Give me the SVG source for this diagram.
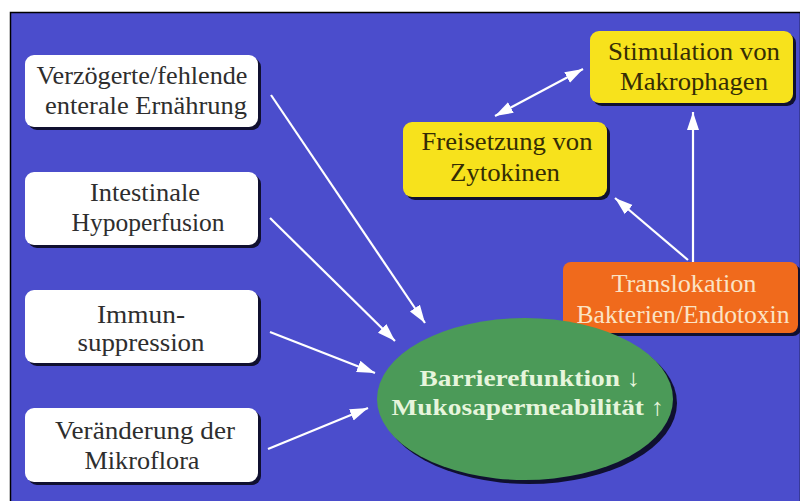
<svg xmlns="http://www.w3.org/2000/svg" width="800" height="501" viewBox="0 0 800 501">
<style>
.t{font-family:"Liberation Serif","Times New Roman",serif;font-size:25px;text-anchor:middle}
.dark{fill:#2e2e2e}
.ydark{fill:#352d05}
.otxt{fill:#fbe3c4}
.etxt{fill:#e6f5dc;font-weight:bold;font-size:24px}
.sh{fill:#101030}
.wbox{fill:#ffffff}
.ybox{fill:#f7e21c}
.obox{fill:#f06a1c}
.con line{stroke:#ffffff;stroke-width:2.2;fill:none}
</style>
<defs>
<marker id="ah" markerUnits="userSpaceOnUse" markerWidth="20" markerHeight="14" refX="18" refY="7" orient="auto-start-reverse">
<path d="M0,1 L18,7 L0,13 Z" fill="#ffffff"/>
</marker>
</defs>
<rect x="0" y="0" width="800" height="501" fill="#ffffff"/>
<rect x="10.5" y="12.5" width="790" height="490" fill="#4b4dcc" stroke="#000000" stroke-width="1.5"/>

<g id="n_verz">
<rect class="sh" x="28" y="58" width="233" height="72" rx="9"/>
<rect class="wbox" x="25" y="55" width="233" height="72" rx="9"/>
<text class="t dark" x="142" y="84" textLength="211" lengthAdjust="spacingAndGlyphs">Verzögerte/fehlende</text>
<text class="t dark" x="146" y="114" textLength="202" lengthAdjust="spacingAndGlyphs">enterale Ernährung</text>
</g>
<g id="n_hypo">
<rect class="sh" x="28" y="175" width="233" height="73" rx="9"/>
<rect class="wbox" x="25" y="172" width="233" height="73" rx="9"/>
<text class="t dark" x="145" y="201" textLength="110" lengthAdjust="spacingAndGlyphs">Intestinale</text>
<text class="t dark" x="148" y="231" textLength="153" lengthAdjust="spacingAndGlyphs">Hypoperfusion</text>
</g>
<g id="n_immun">
<rect class="sh" x="28" y="293" width="233" height="73" rx="9"/>
<rect class="wbox" x="25" y="290" width="233" height="73" rx="9"/>
<text class="t dark" x="141" y="323" textLength="88" lengthAdjust="spacingAndGlyphs">Immun-</text>
<text class="t dark" x="141" y="351" textLength="127" lengthAdjust="spacingAndGlyphs">suppression</text>
</g>
<g id="n_mikro">
<rect class="sh" x="28" y="411" width="233" height="74" rx="9"/>
<rect class="wbox" x="25" y="408" width="233" height="74" rx="9"/>
<text class="t dark" x="145" y="439" textLength="180" lengthAdjust="spacingAndGlyphs">Veränderung der</text>
<text class="t dark" x="142" y="469" textLength="115" lengthAdjust="spacingAndGlyphs">Mikroflora</text>
</g>
<g id="n_stim">
<rect class="sh" x="593" y="34" width="203" height="72" rx="9"/>
<rect class="ybox" x="590" y="31" width="203" height="72" rx="9"/>
<text class="t ydark" x="694" y="60" textLength="172" lengthAdjust="spacingAndGlyphs">Stimulation von</text>
<text class="t ydark" x="694" y="90" textLength="148" lengthAdjust="spacingAndGlyphs">Makrophagen</text>
</g>
<g id="n_frei">
<rect class="sh" x="406" y="125" width="204" height="75" rx="9"/>
<rect class="ybox" x="403" y="122" width="204" height="75" rx="9"/>
<text class="t ydark" x="507" y="150" textLength="171" lengthAdjust="spacingAndGlyphs">Freisetzung von</text>
<text class="t ydark" x="505" y="181" textLength="110" lengthAdjust="spacingAndGlyphs">Zytokinen</text>
</g>
<g id="n_trans">
<rect class="sh" x="566" y="265" width="235" height="71" rx="8"/>
<rect class="obox" x="563" y="262" width="235" height="71" rx="8"/>
<text class="t otxt" x="684" y="292" textLength="145" lengthAdjust="spacingAndGlyphs">Translokation</text>
<text class="t otxt" x="683" y="323" textLength="213" lengthAdjust="spacingAndGlyphs">Bakterien/Endotoxin</text>
</g>
<g id="n_barr">
<ellipse class="sh" cx="529" cy="403" rx="148" ry="81"/>
<ellipse cx="525" cy="399" rx="148" ry="81" fill="#4b9a58"/>
<text class="t etxt" x="530" y="386" textLength="221" lengthAdjust="spacingAndGlyphs">Barrierefunktion ↓</text>
<text class="t etxt" x="528" y="415" textLength="273" lengthAdjust="spacingAndGlyphs">Mukosapermeabilität ↑</text>
</g>

<g id="connectors" class="con">
<line x1="271" y1="95" x2="425" y2="323" marker-end="url(#ah)"/>
<line x1="270" y1="218" x2="395" y2="341" marker-end="url(#ah)"/>
<line x1="270" y1="332" x2="375" y2="373" marker-end="url(#ah)"/>
<line x1="268" y1="449" x2="368" y2="408" marker-end="url(#ah)"/>
<line x1="688" y1="260" x2="615" y2="198" marker-end="url(#ah)"/>
<line x1="693" y1="262" x2="693" y2="112" marker-end="url(#ah)"/>
<line x1="495" y1="116" x2="583" y2="69" marker-start="url(#ah)" marker-end="url(#ah)"/>
</g>
</svg>
